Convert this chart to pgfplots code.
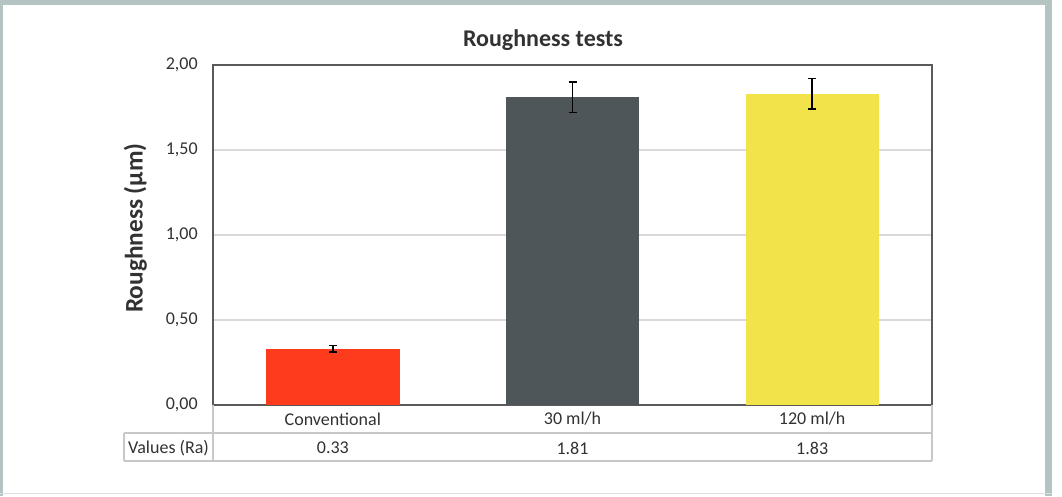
\documentclass[border=0pt]{standalone}
\usepackage{pgfplots}
\pgfplotsset{compat=1.18}
\usepackage{fontspec}
\setmainfont{Carlito}
\definecolor{cred}{RGB}{255,59,30}
\definecolor{cgray}{RGB}{79,86,89}
\definecolor{cyel}{RGB}{243,227,74}
\definecolor{frame}{RGB}{180,196,194}
\definecolor{axcol}{RGB}{90,90,90}
\definecolor{gridc}{RGB}{217,217,217}
\definecolor{tabc}{RGB}{200,200,200}
\definecolor{txt}{RGB}{50,50,50}
\begin{document}
\begin{tikzpicture}
\fill[white] (0pt,0pt) rectangle (796.5pt,372pt);
\fill[frame] (0pt,368.25pt) rectangle (789pt,372pt);
\fill[frame] (0pt,0pt) rectangle (2.25pt,372pt);
\fill[frame] (783.75pt,0pt) rectangle (789pt,372pt);
\fill[frame!50] (0pt,1.5pt) rectangle (789pt,2.6pt);
\node[font=\fontsize{18}{21}\selectfont\bfseries, text=txt] at (407.25pt,342pt) {Roughness tests};
\begin{axis}[
  at={(159.75pt,68.25pt)}, anchor=south west,
  width=539.25pt, height=255pt, scale only axis,
  xmin=-0.5, xmax=2.5, ymin=0, ymax=2,
  xtick=\empty,
  ytick={0,0.5,1,1.5,2},
  yticklabels={{0,00},{0,50},{1,00},{1,50},{2,00}},
  ymajorgrids, grid style={gridc, line width=0.8pt},
  axis line style={axcol, line width=1.2pt},
  major tick length=0pt,
  tick label style={font=\fontsize{13.5}{16}\selectfont, text=txt},
  yticklabel style={xshift=-8pt},
  ylabel={Roughness (μm)},
  every axis y label/.style={at={(axis description cs:-0.108,0.52)},rotate=90,anchor=center,font=\fontsize{19}{22}\selectfont\bfseries, text=txt},
  clip=false,
  ybar, bar width=100pt, bar shift=0pt,
]
\addplot[fill=cred, draw=none, error bars/.cd, y dir=both, y explicit, error bar style={black, line width=1.2pt}, error mark options={black, line width=1.2pt, mark size=3pt, rotate=90}] coordinates {(0,0.33) +- (0,0.02)};
\addplot[fill=cgray, draw=none, error bars/.cd, y dir=both, y explicit, error bar style={black, line width=1.2pt}, error mark options={black, line width=1.2pt, mark size=3pt, rotate=90}] coordinates {(1,1.81) +- (0,0.09)};
\addplot[fill=cyel, draw=none, error bars/.cd, y dir=both, y explicit, error bar style={black, line width=1.2pt}, error mark options={black, line width=1.2pt, mark size=3pt, rotate=90}] coordinates {(2,1.83) +- (0,0.09)};
% data table
\draw[tabc, line width=1pt] (axis cs:-0.5,0) -- (axis cs:-0.5,-0.329);
\draw[tabc, line width=1pt] (axis cs:2.5,0) -- (axis cs:2.5,-0.329);
\draw[tabc, line width=1pt] (axis cs:-0.871,-0.165) -- (axis cs:2.5,-0.165);
\draw[tabc, line width=1pt] (axis cs:-0.871,-0.329) -- (axis cs:2.5,-0.329);
\draw[tabc, line width=1pt] (axis cs:-0.871,-0.165) -- (axis cs:-0.871,-0.329);
\node[font=\fontsize{13.5}{16}\selectfont, text=txt] at (axis cs:0,-0.082) {Conventional};
\node[font=\fontsize{13.5}{16}\selectfont, text=txt] at (axis cs:1,-0.082) {30 ml/h};
\node[font=\fontsize{13.5}{16}\selectfont, text=txt] at (axis cs:2,-0.082) {120 ml/h};
\node[font=\fontsize{13.5}{16}\selectfont, text=txt] at (axis cs:0,-0.253) {0.33};
\node[font=\fontsize{13.5}{16}\selectfont, text=txt] at (axis cs:1,-0.253) {1.81};
\node[font=\fontsize{13.5}{16}\selectfont, text=txt] at (axis cs:2,-0.253) {1.83};
\node[font=\fontsize{13.5}{16}\selectfont, text=txt] at (axis cs:-0.6855,-0.253) {Values (Ra)};
\end{axis}
\end{tikzpicture}
\end{document}
